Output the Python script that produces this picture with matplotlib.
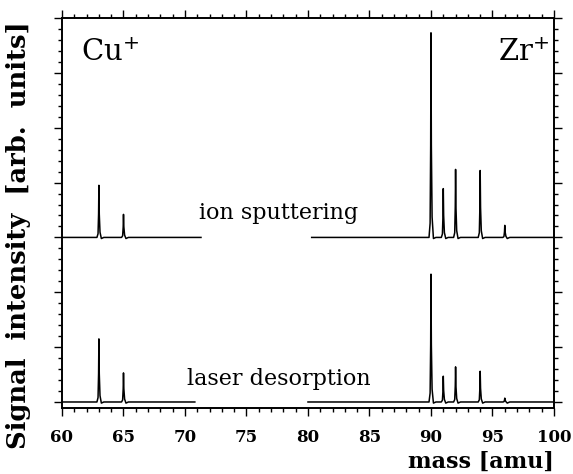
import numpy as np
import matplotlib
matplotlib.use("Agg")
import matplotlib.pyplot as plt
from matplotlib.ticker import MultipleLocator

# peak positions (amu) and heights (arb. units)
cu_mass = [63, 65]
zr_mass = [90, 91, 92, 94, 96]

sputter_cu = [0.95, 0.42]
sputter_zr = [3.73, 0.89, 1.24, 1.22, 0.22]
laser_cu = [1.15, 0.53]
laser_zr = [2.33, 0.47, 0.64, 0.56, 0.07]

# recorded mass windows of each trace
sputter_ranges = [(60, 71.3), (80.3, 100)]
laser_ranges = [(60, 70.8), (80.0, 100)]

sputter_offset = 3.0
laser_offset = 0.0

# narrow peak profile (relative mass offset, fraction of height)
shape_dm = [-0.16, -0.07, -0.025, 0.0, 0.03, 0.09, 0.2, 0.4]
shape_fr = [0.0, 0.07, 0.45, 1.0, 0.45, 0.1, -0.02, 0.0]


def trace(lo, hi, masses, heights):
    xs, ys = [lo], [0.0]
    for m, h in zip(masses, heights):
        if lo < m < hi:
            for d, f in zip(shape_dm, shape_fr):
                xs.append(m + d)
                ys.append(f * h if f >= 0 else f)
    xs.append(hi)
    ys.append(0.0)
    return np.array(xs), np.array(ys)


masses = cu_mass + zr_mass

fig = plt.figure(figsize=(5.73, 4.74), dpi=100)
ax = fig.add_axes([0.1082, 0.1392, 0.8586, 0.8228])

for (lo, hi) in sputter_ranges:
    x, y = trace(lo, hi, masses, sputter_cu + sputter_zr)
    ax.plot(x, y + sputter_offset, color="black", lw=1.1)
for (lo, hi) in laser_ranges:
    x, y = trace(lo, hi, masses, laser_cu + laser_zr)
    ax.plot(x, y + laser_offset, color="black", lw=1.1)

ax.set_xlim(60, 100)
ax.set_ylim(-0.11, 7)

serif = "DejaVu Serif"
ax.xaxis.set_major_locator(MultipleLocator(5))
ax.xaxis.set_minor_locator(MultipleLocator(1))
ax.yaxis.set_major_locator(MultipleLocator(1))
ax.yaxis.set_minor_locator(MultipleLocator(0.2))
ax.tick_params(which="both", direction="out", top=True, right=True,
               labelleft=False, width=1.0)
ax.tick_params(which="major", length=6, pad=9)
ax.tick_params(which="minor", length=3)
for lab in ax.get_xticklabels():
    lab.set_fontfamily(serif)
    lab.set_fontweight("bold")
    lab.set_fontsize(12)
for s in ax.spines.values():
    s.set_linewidth(1.4)

ax.text(0.038, 0.91, "Cu$^{+}$", transform=ax.transAxes, fontsize=21,
        family=serif, va="center", ha="left")
ax.text(0.99, 0.91, "Zr$^{+}$", transform=ax.transAxes, fontsize=21,
        family=serif, va="center", ha="right")
ax.text(77.6, 3.45, "ion sputtering", fontsize=16, family=serif,
        ha="center", va="center")
ax.text(77.6, 0.42, "laser desorption", fontsize=16, family=serif,
        ha="center", va="center")

fig.text(0.032, 0.505, "Signal  intensity  [arb.  units]", rotation=90,
         fontsize=18.5, family=serif, fontweight="bold", ha="center", va="center")
fig.text(0.966, 0.014, "mass [amu]", fontsize=16, family=serif,
         fontweight="bold", ha="right", va="baseline")

fig.savefig("out.png", dpi=100)
